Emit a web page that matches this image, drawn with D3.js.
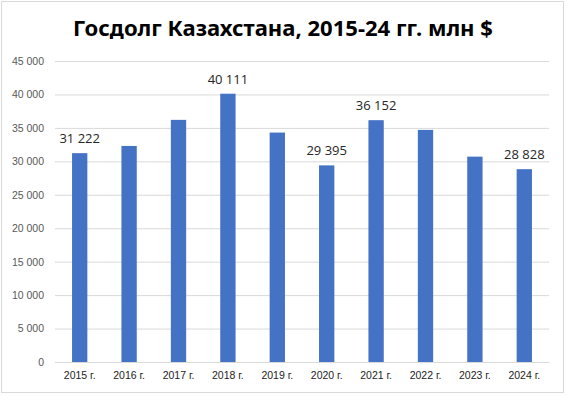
<!DOCTYPE html>
<html>
<head>
<meta charset="utf-8">
<script src="https://cdn.jsdelivr.net/npm/d3@7"></script>
<style>
  body { margin: 0; background: #fff; }
  svg { display: block; font-family: "Open Sans", "Noto Sans", sans-serif; }
</style>
</head>
<body>
<div id="vis"></div>
<script>
// data
const years = ['2015 г.', '2016 г.', '2017 г.', '2018 г.', '2019 г.', '2020 г.', '2021 г.', '2022 г.', '2023 г.', '2024 г.']
const debt = [31222, 32300, 36200, 40111, 34300, 29395, 36152, 34700, 30700, 28828]
const labelled = ['2015 г.', '2018 г.', '2020 г.', '2021 г.', '2024 г.']
const yTicks = [0, 5000, 10000, 15000, 20000, 25000, 30000, 35000, 40000, 45000]
const title = 'Госдолг Казахстана, 2015-24 гг. млн $'

const W = 567, H = 396
const plot = {left: 55, right: 549, top: 61, bottom: 362}

const svg = d3.select('#vis').append('svg')
  .attr('width', W)
  .attr('height', H)

// chart frame
svg.append('rect')
  .attr('x', 1.5).attr('y', 1.5)
  .attr('width', 562).attr('height', 391)
  .attr('fill', '#fff')
  .attr('stroke', '#d9d9d9')

const x = d3.scaleBand(years, [plot.left, plot.right]).paddingInner(0.69).paddingOuter(0.345)
const y = d3.scaleLinear([0, 45000], [plot.bottom, plot.top])

const fmt = v => d3.format(',')(v).replace(/,/g, ' ')

// grid + y labels
const yAxis = d3.axisLeft(y).tickValues(yTicks).tickSize(plot.right - plot.left).tickFormat(fmt)
svg.append('g')
  .attr('transform', `translate(${plot.right},0)`)
  .call(yAxis)
  .call(g => g.select('.domain').remove())
  .call(g => g.selectAll('line').attr('stroke', '#d9d9d9'))
  .call(g => g.selectAll('text')
    .attr('x', -(plot.right - plot.left) - 11)
    .attr('fill', '#595959')
    .attr('font-size', '10.5px'))

// bars
svg.selectAll('.bar')
  .data(years).enter()
  .append('rect')
  .attr('class', 'bar')
  .attr('x', d => x(d))
  .attr('width', x.bandwidth())
  .attr('y', (d, i) => y(debt[i]))
  .attr('height', (d, i) => y(0) - y(debt[i]))
  .attr('fill', '#4472c4')

// x axis
const xAxis = d3.axisBottom(x).tickSize(0).tickPadding(10)
svg.append('g')
  .attr('transform', `translate(0,${plot.bottom})`)
  .call(xAxis)
  .call(g => g.select('.domain').attr('stroke', '#d9d9d9'))
  .call(g => g.selectAll('text')
    .attr('fill', '#222')
    .attr('font-size', '10.5px'))

// value labels
svg.selectAll('.val')
  .data(years.filter(d => labelled.includes(d))).enter()
  .append('text')
  .attr('class', 'val')
  .attr('x', d => x(d) + x.bandwidth() / 2)
  .attr('y', d => y(debt[years.indexOf(d)]) - 10)
  .attr('text-anchor', 'middle')
  .attr('font-size', '13px')
  .attr('fill', '#262626')
  .text(d => fmt(debt[years.indexOf(d)]))

// title, sized to the width of the original
const t = svg.append('text')
  .attr('x', 283)
  .attr('y', 36)
  .attr('text-anchor', 'middle')
  .attr('font-weight', 700)
  .attr('font-family', '"Noto Sans", sans-serif')
  .attr('font-size', '22px')
  .attr('fill', '#000')
  .text(title)
const tw = t.node().getComputedTextLength()
t.attr('font-size', (22 * 420 / tw) + 'px')
</script>
</body>
</html>
